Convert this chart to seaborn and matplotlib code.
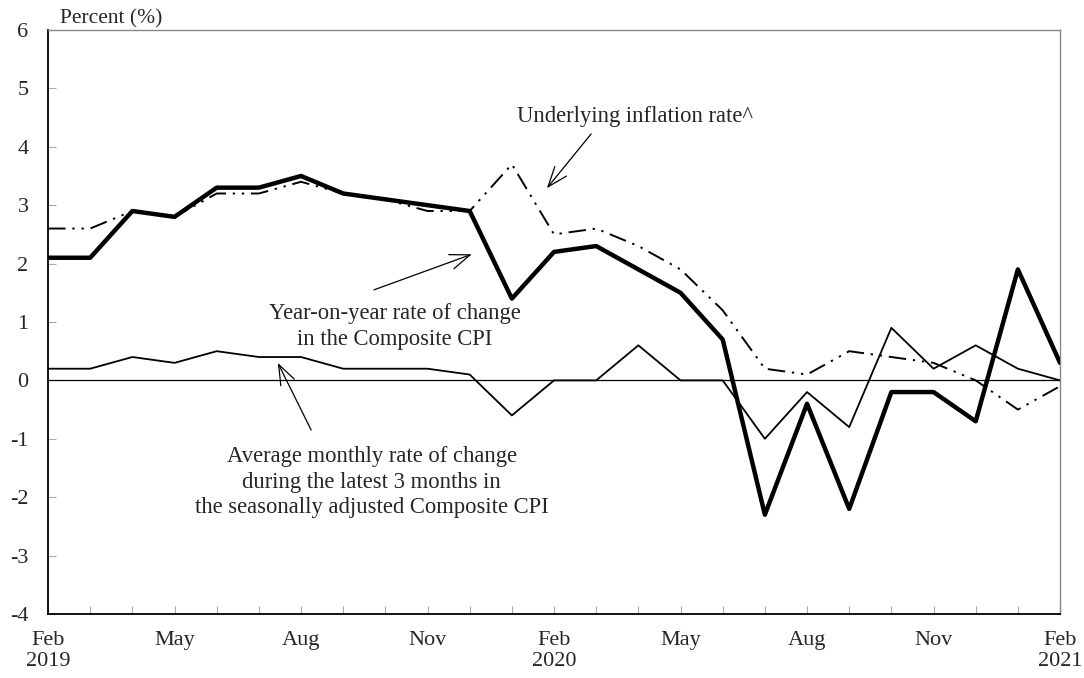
import matplotlib
matplotlib.use("Agg")
import matplotlib.pyplot as plt
import seaborn as sns
import pandas as pd
import numpy as np

months = ["Feb 2019", "Mar 2019", "Apr 2019", "May 2019", "Jun 2019", "Jul 2019",
          "Aug 2019", "Sep 2019", "Oct 2019", "Nov 2019", "Dec 2019", "Jan 2020",
          "Feb 2020", "Mar 2020", "Apr 2020", "May 2020", "Jun 2020", "Jul 2020",
          "Aug 2020", "Sep 2020", "Oct 2020", "Nov 2020", "Dec 2020", "Jan 2021",
          "Feb 2021"]

headline = [2.1, 2.1, 2.9, 2.8, 3.3, 3.3, 3.5, 3.2, 3.1, 3.0, 2.9, 1.4,
            2.2, 2.3, 1.9, 1.5, 0.7, -2.3, -0.4, -2.2, -0.2, -0.2, -0.7, 1.9, 0.3]
underlying = [2.6, 2.6, 2.9, 2.8, 3.2, 3.2, 3.4, 3.2, 3.1, 2.9, 2.9, 3.7,
              2.5, 2.6, 2.3, 1.9, 1.2, 0.2, 0.1, 0.5, 0.4, 0.3, 0.0, -0.5, -0.1]
avg3m = [0.2, 0.2, 0.4, 0.3, 0.5, 0.4, 0.4, 0.2, 0.2, 0.2, 0.1, -0.6,
         0.0, 0.0, 0.6, 0.0, 0.0, -1.0, -0.2, -0.8, 0.9, 0.2, 0.6, 0.2, 0.0]

tick_labels = ["Feb\n2019", "May", "Aug", "Nov", "Feb\n2020", "May", "Aug", "Nov", "Feb\n2021"]
y_ticks = [-4, -3, -2, -1, 0, 1, 2, 3, 4, 5, 6]

sns.set_theme(style="white")
plt.rcParams['font.family'] = ['Liberation Serif', 'DejaVu Serif']

df = pd.DataFrame({"idx": np.arange(len(months)), "month": months,
                   "headline": headline, "underlying": underlying, "avg3m": avg3m})

fig = plt.figure(figsize=(10.84, 6.78), dpi=100)
ax = fig.add_axes([0.0443, 0.0944, 0.9336, 0.8614])

ax.axhline(0, color="black", lw=0.9, zorder=1)

sns.lineplot(data=df, x="idx", y="underlying", ax=ax, color="black", lw=1.4,
             dashes=False, zorder=2)
ax.lines[-1].set_dashes([9, 3.5, 1.2, 3.5, 1.2, 3.5])
sns.lineplot(data=df, x="idx", y="avg3m", ax=ax, color="black", lw=1.3, zorder=3)
sns.lineplot(data=df, x="idx", y="headline", ax=ax, color="black", lw=3.2, zorder=4)

ax.set_xlim(0, len(months) - 1)
ax.set_ylim(-4, 6)
ax.set_xlabel("")
ax.set_ylabel("")

ax.set_xticks(np.arange(0, len(months), 3))
ax.set_xticklabels(tick_labels, fontsize=16, linespacing=1.2)
ax.set_xticks(np.arange(len(months)), minor=True)
ax.set_yticks(y_ticks)
ax.set_yticklabels([str(v) for v in y_ticks], fontsize=16)

ax.tick_params(axis="x", which="both", direction="in", length=6, color="#aaaaaa",
               width=0.8, pad=12, bottom=True)
ax.tick_params(axis="y", which="major", direction="in", length=6, color="#aaaaaa",
               width=0.8, pad=14, left=True)

for side in ["left", "bottom"]:
    ax.spines[side].set_color("black")
    ax.spines[side].set_linewidth(1.3)
for side in ["top", "right"]:
    ax.spines[side].set_color("#888888")
    ax.spines[side].set_linewidth(1.0)
ax.grid(False)

fig.text(0.0554, 0.972, "Percent (%)", fontsize=15.5, ha="left", va="center")

arrow = dict(arrowstyle="->,head_length=1.2,head_width=0.45", color="black", lw=0.9,
             shrinkA=0, shrinkB=0)
ax.annotate("", xy=(11.83, 3.29), xytext=(12.88, 4.22), arrowprops=arrow)
ax.text(13.92, 4.51, "Underlying inflation rate^", fontsize=16.3, ha="center", va="center")

ax.annotate("", xy=(10.05, 2.16), xytext=(7.73, 1.55), arrowprops=arrow)
ax.text(8.23, 0.92, "Year-on-year rate of change\nin the Composite CPI", fontsize=16.3,
        ha="center", va="center", linespacing=1.3)

ax.annotate("", xy=(5.45, 0.30), xytext=(6.24, -0.85), arrowprops=arrow)
ax.text(7.68, -1.74, "Average monthly rate of change\nduring the latest 3 months in\nthe seasonally adjusted Composite CPI",
        fontsize=16.3, ha="center", va="center", linespacing=1.3)

fig.savefig("out.png", dpi=100)
